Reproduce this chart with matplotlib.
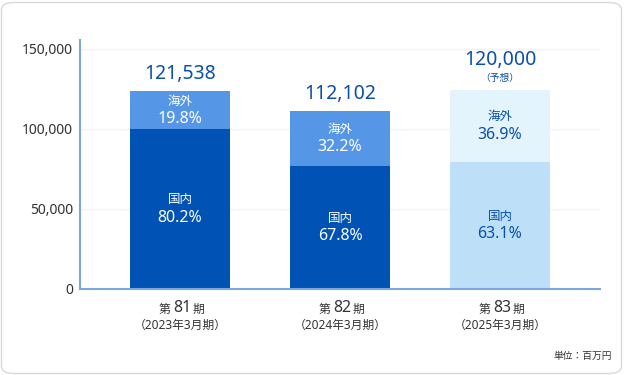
import matplotlib.pyplot as plt
from matplotlib.patches import FancyBboxPatch

plt.rcParams['font.family'] = ['Noto Sans', 'Noto Sans CJK JP', 'DejaVu Sans']

# data
periods = ['81', '82', '83']
years = ['（2023年3月期）', '（2024年3月期）', '（2025年3月期）']
totals = [121538, 112102, 120000]
domestic = [100000, 76900, 79400]   # drawn heights
overseas = [23750, 34350, 45000]
dom_pct = ['80.2%', '67.8%', '63.1%']
ovs_pct = ['19.8%', '32.2%', '36.9%']
forecast = [False, False, True]

dark = '#0052b4'
mid = '#5596e6'
light_dom = '#bde0f8'
light_ovs = '#e3f4fc'
txt_blue = '#0a4fae'

fig = plt.figure(figsize=(6.24, 3.75), dpi=100)
fig.patches.append(FancyBboxPatch((1.5 / 624, 1.5 / 375), 620 / 624, 371 / 375,
                                  boxstyle='round,pad=0,rounding_size=0.02',
                                  transform=fig.transFigure, fc='none', ec='#d9d9d9',
                                  lw=1, zorder=-1))
ax = fig.add_axes([80 / 624, 86 / 375, 520 / 624, 249 / 375])
ax.set_facecolor('none')

x = range(len(periods))
dom_colors = [light_dom if f else dark for f in forecast]
ovs_colors = [light_ovs if f else mid for f in forecast]
ax.bar(x, domestic, width=0.625, color=dom_colors, zorder=2)
ax.bar(x, overseas, width=0.625, bottom=domestic, color=ovs_colors, zorder=2)

ax.set_xlim(-0.625, 2.625)
ax.set_ylim(0, 155600)
ax.set_yticks([0, 50000, 100000, 150000])
ax.set_yticklabels(['0', '50,000', '100,000', '150,000'])
ax.tick_params(axis='y', length=0, pad=5, labelsize=10, labelcolor='#333333')
ax.set_xticks([])
ax.grid(axis='y', color='#f3f3f3', lw=1, zorder=0)
ax.set_axisbelow(True)
for s in ['top', 'right']:
    ax.spines[s].set_visible(False)
for s in ['left', 'bottom']:
    ax.spines[s].set_color('#7aa7e0')
    ax.spines[s].set_linewidth(1.5)

for i in x:
    inner = txt_blue if forecast[i] else 'white'
    top = domestic[i] + overseas[i]
    # segment labels
    for mid_y, name, pct in [(domestic[i] / 2, '国内', dom_pct[i]),
                             (domestic[i] + overseas[i] / 2, '海外', ovs_pct[i])]:
        ax.annotate(name, (i, mid_y), xytext=(0, 9), textcoords='offset pixels',
                    ha='center', va='center', fontsize=9, color=inner)
        ax.annotate(pct, (i, mid_y), xytext=(0, -9), textcoords='offset pixels',
                    ha='center', va='center', fontsize=11.5, color=inner)
    # totals
    if forecast[i]:
        ax.annotate(f'{totals[i]:,}', (i, top), xytext=(0, 30), textcoords='offset pixels',
                    ha='center', va='center', fontsize=14, color=txt_blue)
        ax.annotate('（予想）', (i, top), xytext=(0, 12), textcoords='offset pixels',
                    ha='center', va='center', fontsize=7, color=txt_blue)
    else:
        ax.annotate(f'{totals[i]:,}', (i, top), xytext=(0, 17), textcoords='offset pixels',
                    ha='center', va='center', fontsize=14, color=txt_blue)
    # category labels
    ax.annotate(periods[i], (i, 0), xytext=(2, -19), textcoords='offset pixels',
                ha='center', va='center', fontsize=11.5, color='#333333')
    ax.annotate('第', (i, 0), xytext=(-10, -20), textcoords='offset pixels',
                ha='right', va='center', fontsize=8.5, color='#333333')
    ax.annotate('期', (i, 0), xytext=(13, -20), textcoords='offset pixels',
                ha='left', va='center', fontsize=8.5, color='#333333')
    ax.annotate(years[i], (i, 0), xytext=(0, -36), textcoords='offset pixels',
                ha='center', va='center', fontsize=8.5, color='#333333')

fig.text(612 / 624, 1 - 356 / 375, '単位：百万円', ha='right', va='center',
         fontsize=7, color='#333333')

fig.savefig('out.png', dpi=100)
